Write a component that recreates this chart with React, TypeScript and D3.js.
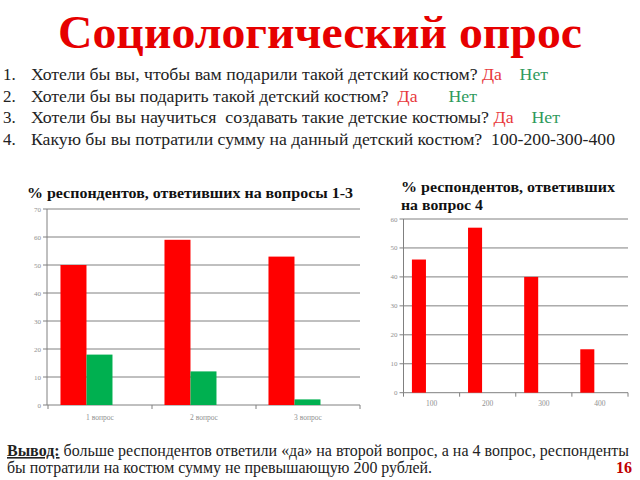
import React from "react";
import * as d3 from "d3";

const questionCats = ["1 вопрос", "2 вопрос", "3 вопрос"];
const yesValues = [50, 59, 53];
const noValues = [18, 12, 2];
const leftTicks = [0, 10, 20, 30, 40, 50, 60, 70];

const sumCats = ["100", "200", "300", "400"];
const sumValues = [46, 57, 40, 15];
const rightTicks = [0, 10, 20, 30, 40, 50, 60];

const questions = [
  { n: "1.", text: "Хотели бы вы, чтобы вам подарили такой детский костюм? ", yes: "Да", no: "Нет", gap: "    ", w: 517 },
  { n: "2.", text: "Хотели бы вы подарить такой детский костюм?  ", yes: "Да", no: "Нет", gap: "       ", w: 446 },
  { n: "3.", text: "Хотели бы вы научиться  создавать такие детские костюмы? ", yes: "Да", no: "Нет", gap: "    ", w: 529 },
  { n: "4.", text: "Какую бы вы потратили сумму на данный детский костюм?  100-200-300-400", yes: "", no: "", gap: "", w: 584 },
];

const RED = "#ff0000";
const GREEN = "#00b050";
const GRID = "#808080";
const TICKTXT = "#909090";
const SERIF = "'Liberation Serif', 'Times New Roman', serif";

export default function App() {
  const yL = d3.scaleLinear().domain([0, 70]).range([405, 209]);
  const xL = d3.scaleBand<string>().domain(questionCats).range([48, 360]).padding(0);
  const bwL = xL.bandwidth();
  const axL = 47;

  const yR = d3.scaleLinear().domain([0, 60]).range([392.7, 219]);
  const xR = d3.scaleBand<string>().domain(sumCats).range([403.5, 628]).padding(0);
  const bwR = xR.bandwidth();
  const axR = 403.5;

  return (
    <svg
      width={640}
      height={480}
      style={{ position: "absolute", left: 0, top: 0, background: "#fff", fontFamily: SERIF }}
    >
      <rect x={0} y={0} width={640} height={480} fill="#fff" />
      <text x={58} y={48} fontSize={46} fontWeight="bold" fill="#e60000" textLength={524} lengthAdjust="spacingAndGlyphs">
        Социологический опрос
      </text>

      {questions.map((q, i) => (
        <g key={i}>
          <text x={3} y={80 + i * 21.7} fontSize={17} fill="#222">{q.n}</text>
          <text x={31} y={80 + i * 21.7} fontSize={17} fill="#222" textLength={q.w} lengthAdjust="spacingAndGlyphs" style={{ whiteSpace: "pre" }}>
            {q.text}
            {q.yes && <tspan fill="#e8383c">{q.yes}</tspan>}
            {q.gap}
            {q.no && <tspan fill="#2e9a5c">{q.no}</tspan>}
          </text>
        </g>
      ))}

      <text x={27} y={198} fontSize={15} fontWeight="bold" fill="#111" textLength={326} lengthAdjust="spacingAndGlyphs">
        % респондентов, ответивших на вопросы 1-3
      </text>
      {leftTicks.map((t) => (
        <g key={t}>
          <line x1={axL - 4} x2={360} y1={yL(t)} y2={yL(t)} stroke={GRID} strokeWidth={1} />
          <text x={axL - 6} y={yL(t) + 2.5} fontSize={7} textAnchor="end" fill={TICKTXT}>{t}</text>
        </g>
      ))}
      <line x1={axL} x2={axL} y1={yL(70)} y2={yL(0)} stroke={GRID} strokeWidth={1} />
      {[...questionCats.map((c) => xL(c) as number), 360].map((x, i) => (
        <line key={i} x1={x} x2={x} y1={yL(0)} y2={yL(0) + 4} stroke={GRID} />
      ))}
      {questionCats.map((c, i) => (
        <g key={c}>
          <rect x={(xL(c) as number) + 0.12 * bwL} y={yL(yesValues[i])} width={0.25 * bwL} height={yL(0) - yL(yesValues[i])} fill={RED} />
          <rect x={(xL(c) as number) + 0.37 * bwL} y={yL(noValues[i])} width={0.25 * bwL} height={yL(0) - yL(noValues[i])} fill={GREEN} />
          <text x={(xL(c) as number) + bwL / 2} y={420} fontSize={7.5} textAnchor="middle" fill={TICKTXT}>{c}</text>
        </g>
      ))}

      <text x={401} y={192} fontSize={15} fontWeight="bold" fill="#111" textLength={214} lengthAdjust="spacingAndGlyphs">% респондентов, ответивших</text>
      <text x={401} y={210} fontSize={15} fontWeight="bold" fill="#111" textLength={82} lengthAdjust="spacingAndGlyphs">на вопрос 4</text>
      {rightTicks.map((t) => (
        <g key={t}>
          <line x1={axR - 4} x2={628} y1={yR(t)} y2={yR(t)} stroke={GRID} strokeWidth={1} />
          <text x={axR - 6} y={yR(t) + 2.5} fontSize={7} textAnchor="end" fill={TICKTXT}>{t}</text>
        </g>
      ))}
      <line x1={axR} x2={axR} y1={yR(60)} y2={yR(0)} stroke={GRID} strokeWidth={1} />
      {[...sumCats.map((c) => xR(c) as number), 628].map((x, i) => (
        <line key={i} x1={x} x2={x} y1={yR(0)} y2={yR(0) + 4} stroke={GRID} />
      ))}
      {sumCats.map((c, i) => (
        <g key={c}>
          <rect x={(xR(c) as number) + 0.15 * bwR} y={yR(sumValues[i])} width={0.25 * bwR} height={yR(0) - yR(sumValues[i])} fill={RED} />
          <text x={(xR(c) as number) + bwR / 2} y={406} fontSize={7.5} textAnchor="middle" fill={TICKTXT}>{c}</text>
        </g>
      ))}

      <text x={7} y={456} fontSize={16} fill="#222" textLength={622} lengthAdjust="spacingAndGlyphs">
        <tspan fontWeight="bold" textDecoration="underline">Вывод:</tspan>
        <tspan> больше респондентов ответили «да» на второй вопрос, а на 4 вопрос, респонденты</tspan>
      </text>
      <text x={7} y={473} fontSize={16} fill="#222" textLength={425} lengthAdjust="spacingAndGlyphs">
        бы потратили на костюм сумму не превышающую 200 рублей.
      </text>
      <text x={632} y={473} fontSize={16} fontWeight="bold" textAnchor="end" fill="#c00000">16</text>
    </svg>
  );
}
